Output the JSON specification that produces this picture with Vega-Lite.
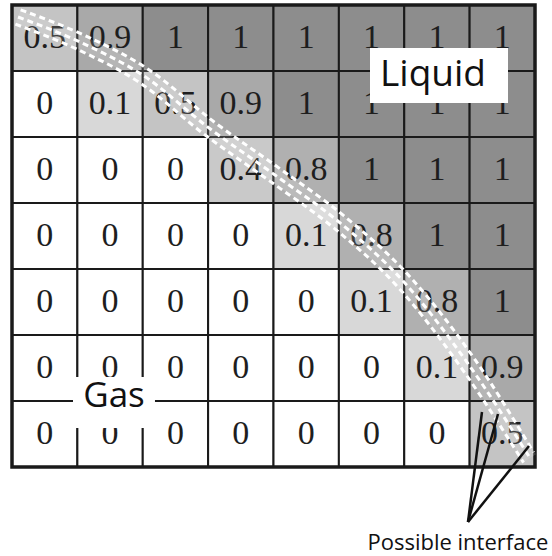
{
  "$schema": "https://vega.github.io/schema/vega-lite/v6.json",
  "width": 523,
  "height": 462,
  "autosize": {"type": "none"},
  "padding": {"left": 12, "top": 5, "right": 17, "bottom": 89},
  "background": "white",
  "config": {"view": {"stroke": null}},
  "datasets": {
    "cells": [
      {"row": 0, "col": 0, "value": 0.5}, {"row": 0, "col": 1, "value": 0.9}, {"row": 0, "col": 2, "value": 1}, {"row": 0, "col": 3, "value": 1}, {"row": 0, "col": 4, "value": 1}, {"row": 0, "col": 5, "value": 1}, {"row": 0, "col": 6, "value": 1}, {"row": 0, "col": 7, "value": 1},
      {"row": 1, "col": 0, "value": 0}, {"row": 1, "col": 1, "value": 0.1}, {"row": 1, "col": 2, "value": 0.5}, {"row": 1, "col": 3, "value": 0.9}, {"row": 1, "col": 4, "value": 1}, {"row": 1, "col": 5, "value": 1}, {"row": 1, "col": 6, "value": 1}, {"row": 1, "col": 7, "value": 1},
      {"row": 2, "col": 0, "value": 0}, {"row": 2, "col": 1, "value": 0}, {"row": 2, "col": 2, "value": 0}, {"row": 2, "col": 3, "value": 0.4}, {"row": 2, "col": 4, "value": 0.8}, {"row": 2, "col": 5, "value": 1}, {"row": 2, "col": 6, "value": 1}, {"row": 2, "col": 7, "value": 1},
      {"row": 3, "col": 0, "value": 0}, {"row": 3, "col": 1, "value": 0}, {"row": 3, "col": 2, "value": 0}, {"row": 3, "col": 3, "value": 0}, {"row": 3, "col": 4, "value": 0.1}, {"row": 3, "col": 5, "value": 0.8}, {"row": 3, "col": 6, "value": 1}, {"row": 3, "col": 7, "value": 1},
      {"row": 4, "col": 0, "value": 0}, {"row": 4, "col": 1, "value": 0}, {"row": 4, "col": 2, "value": 0}, {"row": 4, "col": 3, "value": 0}, {"row": 4, "col": 4, "value": 0}, {"row": 4, "col": 5, "value": 0.1}, {"row": 4, "col": 6, "value": 0.8}, {"row": 4, "col": 7, "value": 1},
      {"row": 5, "col": 0, "value": 0}, {"row": 5, "col": 1, "value": 0}, {"row": 5, "col": 2, "value": 0}, {"row": 5, "col": 3, "value": 0}, {"row": 5, "col": 4, "value": 0}, {"row": 5, "col": 5, "value": 0}, {"row": 5, "col": 6, "value": 0.1}, {"row": 5, "col": 7, "value": 0.9},
      {"row": 6, "col": 0, "value": 0}, {"row": 6, "col": 1, "value": 0}, {"row": 6, "col": 2, "value": 0}, {"row": 6, "col": 3, "value": 0}, {"row": 6, "col": 4, "value": 0}, {"row": 6, "col": 5, "value": 0}, {"row": 6, "col": 6, "value": 0}, {"row": 6, "col": 7, "value": 0.5}
    ],
    "interface": [
      {"curve": "upper", "gx": 0.132, "gy": 0.073}, {"curve": "upper", "gx": 1.096, "gy": 0.455}, {"curve": "upper", "gx": 2.087, "gy": 0.976}, {"curve": "upper", "gx": 3.088, "gy": 1.769}, {"curve": "upper", "gx": 4.096, "gy": 2.479}, {"curve": "upper", "gx": 5.079, "gy": 3.196}, {"curve": "upper", "gx": 6.086, "gy": 4.116}, {"curve": "upper", "gx": 7.088, "gy": 5.382}, {"curve": "upper", "gx": 7.980, "gy": 6.778},
      {"curve": "center", "gx": 0.092, "gy": 0.182}, {"curve": "center", "gx": 1.040, "gy": 0.561}, {"curve": "center", "gx": 2.019, "gy": 1.076}, {"curve": "center", "gx": 3.014, "gy": 1.864}, {"curve": "center", "gx": 4.023, "gy": 2.576}, {"curve": "center", "gx": 5.002, "gy": 3.288}, {"curve": "center", "gx": 5.996, "gy": 4.197}, {"curve": "center", "gx": 6.990, "gy": 5.455}, {"curve": "center", "gx": 7.924, "gy": 6.864},
      {"curve": "lower", "gx": 0.052, "gy": 0.290}, {"curve": "lower", "gx": 0.984, "gy": 0.666}, {"curve": "lower", "gx": 1.951, "gy": 1.175}, {"curve": "lower", "gx": 2.939, "gy": 1.958}, {"curve": "lower", "gx": 3.950, "gy": 2.672}, {"curve": "lower", "gx": 4.925, "gy": 3.380}, {"curve": "lower", "gx": 5.907, "gy": 4.278}, {"curve": "lower", "gx": 6.893, "gy": 5.527}, {"curve": "lower", "gx": 7.825, "gy": 6.933}
    ],
    "pointers": [
      {"gx": 7.189, "gy": 6.167},
      {"gx": 7.434, "gy": 6.197},
      {"gx": 7.908, "gy": 6.682}
    ]
  },
  "resolve": {"scale": {"x": "independent", "y": "independent"}},
  "layer": [
    {
      "data": {"name": "cells"},
      "encoding": {
        "x": {"field": "col", "type": "ordinal", "axis": null, "scale": {"paddingInner": 0, "paddingOuter": 0}},
        "y": {"field": "row", "type": "ordinal", "axis": null, "scale": {"paddingInner": 0, "paddingOuter": 0}}
      },
      "layer": [
        {
          "mark": {"type": "rect", "stroke": "#1a1a1a", "strokeWidth": 2},
          "encoding": {
            "color": {"field": "value", "type": "quantitative", "legend": null,
              "scale": {"domain": [0, 0.1, 0.5, 0.9, 1], "range": ["#ffffff", "#d8d8d8", "#c4c4c4", "#a9a9a9", "#8d8d8d"]}}
          }
        },
        {
          "mark": {"type": "text", "font": "Liberation Serif", "fontSize": 34, "color": "#1e1e1e", "baseline": "middle", "align": "center"},
          "encoding": {"text": {"field": "value", "type": "nominal"}}
        }
      ]
    },
    {
      "layer": [
        {
          "data": {"values": [{}]},
          "mark": {"type": "rect", "fill": null, "filled": false, "stroke": "#1a1a1a", "strokeWidth": 3.5},
          "encoding": {
            "x": {"datum": 0, "type": "quantitative", "axis": null, "scale": {"domain": [0, 8], "nice": false, "zero": false}},
            "x2": {"datum": 8},
            "y": {"datum": 0, "type": "quantitative", "axis": null, "scale": {"domain": [0, 7], "nice": false, "zero": false, "reverse": true}},
            "y2": {"datum": 7}
          }
        },
        {
          "data": {"name": "interface"},
          "transform": [{"filter": "datum.curve === 'center'"}],
          "mark": {"type": "line", "stroke": "white", "strokeWidth": 14, "opacity": 0.15, "interpolate": "monotone"},
          "encoding": {
            "x": {"field": "gx", "type": "quantitative", "axis": null, "scale": {"domain": [0, 8], "nice": false, "zero": false}},
            "y": {"field": "gy", "type": "quantitative", "axis": null, "scale": {"domain": [0, 7], "nice": false, "zero": false, "reverse": true}}
          }
        },
        {
          "data": {"name": "interface"},
          "mark": {"type": "line", "stroke": "white", "strokeWidth": 3, "strokeDash": [6, 4], "interpolate": "monotone"},
          "encoding": {
            "x": {"field": "gx", "type": "quantitative", "axis": null, "scale": {"domain": [0, 8], "nice": false, "zero": false}},
            "y": {"field": "gy", "type": "quantitative", "axis": null, "scale": {"domain": [0, 7], "nice": false, "zero": false, "reverse": true}},
            "detail": {"field": "curve", "type": "nominal"}
          }
        },
        {
          "data": {"values": [{}]},
          "mark": {"type": "rect", "fill": "white", "stroke": null},
          "encoding": {
            "x": {"datum": 5.476, "type": "quantitative", "axis": null, "scale": {"domain": [0, 8], "nice": false, "zero": false}},
            "x2": {"datum": 7.587},
            "y": {"datum": 0.652, "type": "quantitative", "axis": null, "scale": {"domain": [0, 7], "nice": false, "zero": false, "reverse": true}},
            "y2": {"datum": 1.485}
          }
        },
        {
          "data": {"values": [{}]},
          "mark": {"type": "text", "text": "Liquid", "font": "Open Sans", "fontSize": 37, "color": "#111111", "align": "center", "baseline": "middle"},
          "encoding": {
            "x": {"datum": 6.44, "type": "quantitative", "axis": null, "scale": {"domain": [0, 8], "nice": false, "zero": false}},
            "y": {"datum": 1.06, "type": "quantitative", "axis": null, "scale": {"domain": [0, 7], "nice": false, "zero": false, "reverse": true}}
          }
        },
        {
          "data": {"values": [{}]},
          "mark": {"type": "rect", "fill": "white", "stroke": null},
          "encoding": {
            "x": {"datum": 0.933, "type": "quantitative", "axis": null, "scale": {"domain": [0, 8], "nice": false, "zero": false}},
            "x2": {"datum": 2.187},
            "y": {"datum": 5.636, "type": "quantitative", "axis": null, "scale": {"domain": [0, 7], "nice": false, "zero": false, "reverse": true}},
            "y2": {"datum": 6.409}
          }
        },
        {
          "data": {"values": [{}]},
          "mark": {"type": "text", "text": "Gas", "font": "Open Sans", "fontSize": 35, "color": "#111111", "align": "center", "baseline": "middle"},
          "encoding": {
            "x": {"datum": 1.56, "type": "quantitative", "axis": null, "scale": {"domain": [0, 8], "nice": false, "zero": false}},
            "y": {"datum": 5.924, "type": "quantitative", "axis": null, "scale": {"domain": [0, 7], "nice": false, "zero": false, "reverse": true}}
          }
        },
        {
          "data": {"name": "pointers"},
          "mark": {"type": "rule", "stroke": "#111111", "strokeWidth": 2.5},
          "encoding": {
            "x": {"field": "gx", "type": "quantitative", "axis": null, "scale": {"domain": [0, 8], "nice": false, "zero": false}},
            "y": {"field": "gy", "type": "quantitative", "axis": null, "scale": {"domain": [0, 7], "nice": false, "zero": false, "reverse": true}},
            "x2": {"datum": 6.975},
            "y2": {"datum": 7.833}
          }
        },
        {
          "data": {"values": [{}]},
          "mark": {"type": "text", "text": "Possible interface", "font": "Open Sans", "fontSize": 22, "color": "#111111", "align": "center", "baseline": "middle"},
          "encoding": {
            "x": {"datum": 6.82, "type": "quantitative", "axis": null, "scale": {"domain": [0, 8], "nice": false, "zero": false}},
            "y": {"datum": 8.152, "type": "quantitative", "axis": null, "scale": {"domain": [0, 7], "nice": false, "zero": false, "reverse": true}}
          }
        }
      ]
    }
  ]
}
